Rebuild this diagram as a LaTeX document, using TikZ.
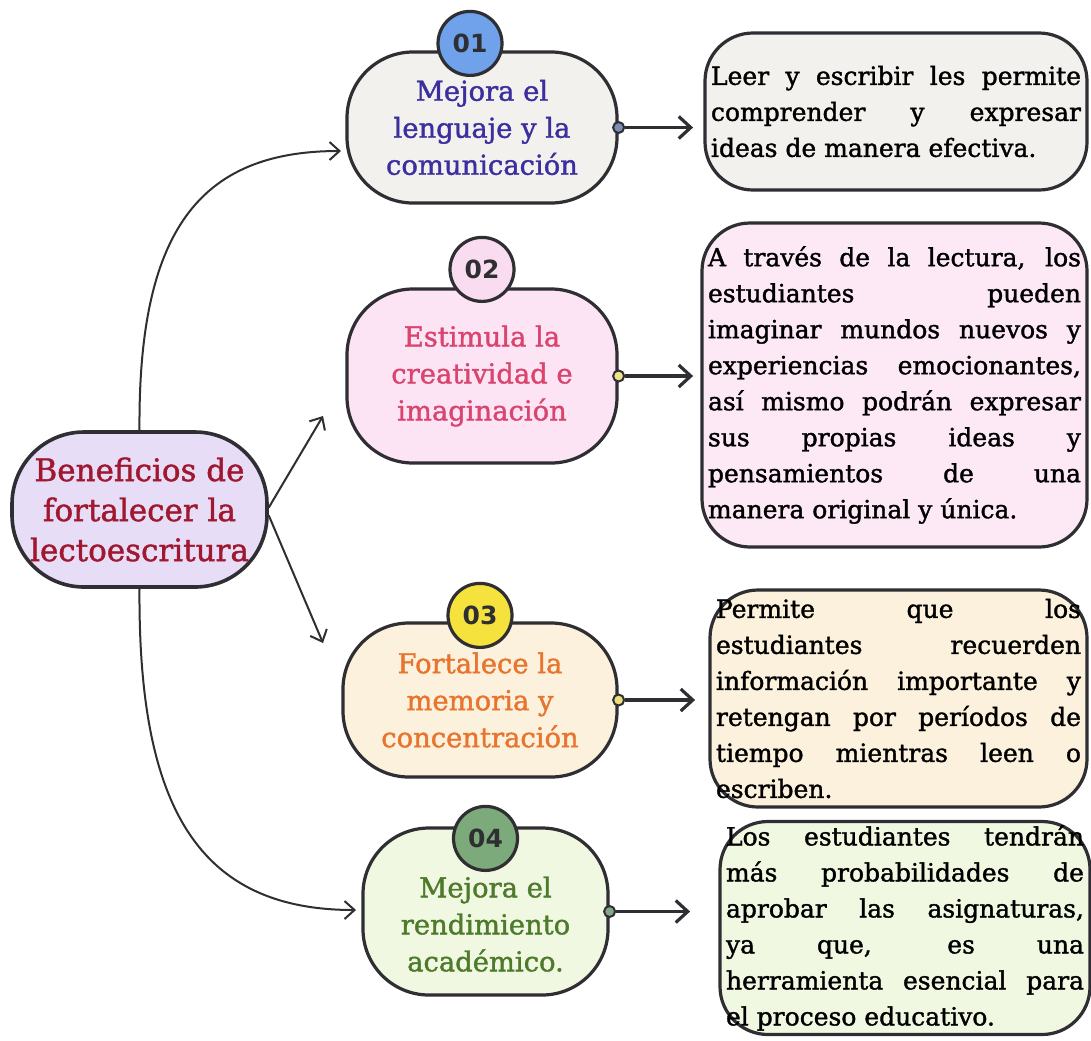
\documentclass[tikz,border=0pt]{standalone}
\usepackage{fontspec}
\setmainfont{DejaVu Serif}[FakeBold=1.4]
\setsansfont{DejaVu Sans}
\usetikzlibrary{arrows.meta,positioning}
\hbadness=10000
\definecolor{lineas}{HTML}{2E2E33}
\definecolor{fondoC}{HTML}{E8DDF7}
\definecolor{textoC}{HTML}{A01830}
\definecolor{fondoA}{HTML}{F3F1EE}
\definecolor{textoA}{HTML}{3B2E9E}
\definecolor{numA}{HTML}{6FA2EA}
\definecolor{puntoA}{HTML}{7E8DB5}
\definecolor{fondoB}{HTML}{FCE4F4}
\definecolor{textoB}{HTML}{D9456E}
\definecolor{numB}{HTML}{F9DCF0}
\definecolor{puntoB}{HTML}{EFE28A}
\definecolor{fondoD}{HTML}{FBF1DC}
\definecolor{textoD}{HTML}{E8742E}
\definecolor{numD}{HTML}{F5E23C}
\definecolor{puntoD}{HTML}{EDE07A}
\definecolor{fondoE}{HTML}{F0F8E2}
\definecolor{textoE}{HTML}{4E7A2C}
\definecolor{numE}{HTML}{7DAA7A}
\definecolor{puntoE}{HTML}{86A88A}

\begin{document}
\begin{tikzpicture}[x=0.5pt,y=-0.5pt,
  centro/.style={draw=lineas, line width=1.8pt, rounded corners=36pt, align=center,
    font=\fontsize{15.5}{20}\selectfont, inner sep=0pt},
  tema/.style={draw=lineas, line width=1.6pt, rounded corners=33pt, align=center,
    font=\fontsize{13.7}{18.5}\selectfont, inner sep=0pt},
  desc/.style={draw=lineas, line width=1.6pt, rounded corners=24pt, align=justify,
    font=\fontsize{12.5}{18}\selectfont, inner xsep=3pt, inner ysep=0pt},
  num/.style={circle, draw=lineas, line width=1.6pt, minimum size=32pt, inner sep=0pt,
    font=\sffamily\bfseries\fontsize{12.5}{14}\selectfont, text=lineas},
  port/.style={circle, draw=lineas, line width=1pt, minimum size=5.5pt, inner sep=0pt},
  flecha/.style={draw=lineas, line width=1.6pt, -{Straight Barb[length=6pt,width=11pt]}},
  curva/.style={draw=lineas, line width=1pt, -{Straight Barb[length=5pt,width=9pt]}}]
\useasboundingbox (0,0) rectangle (1091,1040);

% idea central
\node[centro, fill=fondoC, text=textoC, minimum width=127.5pt, minimum height=77.5pt]
  (cen) at (139.5,509.5) {Beneficios de\\fortalecer la\\lectoescritura};

% beneficios
\node[tema, fill=fondoA, text=textoA, minimum width=135pt, minimum height=75.5pt]
  (b1) at (482,127.5) {Mejora el\\lenguaje y la\\comunicación};
\node[tema, fill=fondoB, text=textoB, minimum width=135pt, minimum height=87pt]
  (b2) at (482,376) {Estimula la\\creatividad e\\imaginación};
\node[tema, fill=fondoD, text=textoD, minimum width=137pt, minimum height=77pt]
  (b3) at (480,700) {Fortalece la\\memoria y\\concentración};
\node[tema, fill=fondoE, text=textoE, minimum width=122.5pt, minimum height=83.5pt]
  (b4) at (485.5,911.5) {\rule{0pt}{23pt}Mejora el\\rendimiento\\académico.};

% numeros
\node[num, fill=numA] (n1) at ([xshift=-6pt,yshift=3.5pt]b1.north) {01};
\node[num, fill=numB] (n2) at ([yshift=9pt]b2.north) {02};
\node[num, fill=numD] (n3) at ([yshift=3pt]b3.north) {03};
\node[num, fill=numE] (n4) at ([yshift=-6pt]b4.north) {04};

% descripciones
\node[desc, fill=fondoA, text width=185pt, minimum height=78.5pt] (d1) at (896,111.5)
  {Leer y escribir les permite\linebreak comprender y expresar\linebreak ideas de manera efectiva.};
\node[desc, fill=fondoB!80!white, text width=186.5pt, minimum height=162pt] (d2) at (894.5,385)
  {A través de la lectura, los\linebreak estudiantes pueden\linebreak imaginar mundos nuevos y\linebreak experiencias emocionantes,\linebreak así mismo podrán expresar\linebreak sus propias ideas y\linebreak pensamientos de una\linebreak manera original y única.};
\node[desc, fill=fondoD, text width=182.5pt, minimum height=108.5pt] (d3) at (898.5,698.5)
  {Permite que los\linebreak estudiantes recuerden\linebreak información importante y\linebreak retengan por períodos de\linebreak tiempo mientras leen o\linebreak escriben.};
\node[desc, fill=fondoE, text width=179pt, minimum height=106.5pt] (d4) at (905,928)
  {Los estudiantes tendrán\linebreak más probabilidades de\linebreak aprobar las asignaturas,\linebreak ya que, es una\linebreak herramienta esencial para\linebreak el proceso educativo.};

% puntos de salida
\node[port, fill=puntoA] (p1) at (b1.east) {};
\node[port, fill=puntoB] (p2) at (b2.east) {};
\node[port, fill=puntoD] (p3) at (b3.east) {};
\node[port, fill=puntoE] (p4) at (b4.east) {};
\coordinate[right=34pt of p1] (e1);
\coordinate[right=34pt of p2] (e2);
\coordinate[right=35pt of p3] (e3);
\coordinate[right=37pt of p4] (e4);
\draw[flecha] (p1) -- (e1);
\draw[flecha] (p2) -- (e2);
\draw[flecha] (p3) -- (e3);
\draw[flecha] (p4) -- (e4);

% ramas
\coordinate (t1) at (341,151);
\coordinate (t2) at (323,416);
\coordinate (t3) at (323,643);
\coordinate (t4) at (356,910);
\draw[curva] (cen.north) .. controls (138,230) and (200,151) .. (t1);
\draw[curva] ([yshift=1pt]cen.east) -- (t2);
\draw[curva] ([yshift=-3pt]cen.east) -- (t3);
\draw[curva] (cen.south) .. controls (138,810) and (200,910) .. (t4);
\end{tikzpicture}
\end{document}
